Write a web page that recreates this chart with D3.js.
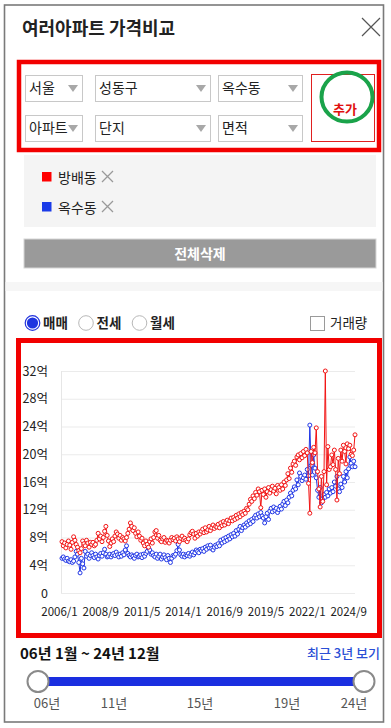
<!DOCTYPE html>
<html><head><meta charset="utf-8">
<script src="https://cdn.jsdelivr.net/npm/d3@7"></script>
<style>
html,body{margin:0;padding:0;background:#fff;}
svg{display:block;font-family:"Noto Sans CJK KR","Noto Sans",sans-serif;}
</style></head>
<body>
<svg id="c" width="391" height="728"></svg>
<script>
// ---------- data ----------
const seriesNames = ["방배동", "옥수동"];
const seriesColors = ["#f21414", "#2036e6"];
const startYear = 2006, endYear = 2024;
const xTickLabels = ["2006/1","2008/9","2011/5","2014/1","2016/9","2019/5","2022/1","2024/9"];
const yTicks = [0,4,8,12,16,20,24,28,32];
// 방배동 (억), monthly 2006/1 - 2024/12
const bangbae = [
 7.4,6.8,7.2,6.5,7.0,7.5,6.9,6.3,7.3,8.1,7.6,7.0,
 6.6,6.1,5.8,6.4,7.5,7.1,6.8,7.6,7.2,6.6,7.3,7.0,
 7.3,6.8,7.0,7.6,8.6,7.8,8.2,7.4,8.0,8.9,9.6,8.3,
 7.5,6.7,7.2,7.8,7.4,8.2,8.8,8.5,7.9,8.3,7.6,8.0,
 7.8,7.5,8.0,8.6,9.2,10.1,9.6,9.0,9.4,8.6,8.1,8.8,
 8.2,7.6,7.9,7.2,6.8,7.5,7.0,6.6,7.4,7.8,7.2,8.0,
 8.8,9.0,7.9,8.3,7.6,7.4,7.8,8.0,7.3,7.6,7.5,7.2,
 7.6,8.0,7.7,7.9,7.5,8.1,7.8,7.4,7.9,8.2,7.7,7.9,
 7.6,7.4,7.8,8.4,8.7,8.9,8.5,7.9,8.6,8.2,8.8,8.5,
 8.9,9.2,8.7,9.4,8.8,9.1,9.6,9.0,9.4,9.8,9.3,9.6,
 9.5,9.9,9.4,10.1,9.7,10.3,9.8,10.2,10.5,10.0,10.4,10.8,
 10.4,10.9,10.6,11.2,10.8,11.4,11.0,11.6,11.3,11.8,11.5,12.2,
 12.0,12.8,13.5,13.2,14.0,13.6,14.5,14.1,15.0,14.6,12.3,14.8,
 14.2,15.0,13.8,14.6,15.2,14.4,14.9,15.4,14.7,15.1,14.3,15.5,
 15.2,14.8,15.6,15.0,16.0,15.5,16.3,17.2,16.5,18.0,17.4,18.6,
 19.0,18.4,19.6,19.9,19.2,20.1,19.5,20.4,19.8,20.7,20.2,15.8,
 11.5,20.4,18.8,21.0,20.2,23.8,17.5,15.0,12.4,16.8,13.2,17.5,
 32.0,15.6,21.1,17.8,18.2,19.9,18.5,20.6,17.8,13.4,19.4,17.2,
 20.6,19.0,21.3,20.4,18.6,21.5,20.8,21.3,20.0,19.8,20.6,22.8
];
// 옥수동 (억), monthly 2006/1 - 2024/12
const oksu = [
 5.0,5.2,4.9,4.7,5.0,4.6,4.5,4.8,4.4,4.6,5.2,6.0,
 5.6,4.4,2.9,5.0,4.2,3.6,6.0,5.3,5.6,5.0,5.4,5.8,
 5.4,5.1,5.6,5.2,4.9,5.4,5.7,5.3,5.8,6.3,5.6,5.2,
 5.3,5.6,5.2,5.5,5.7,5.4,5.9,5.5,5.2,5.6,5.3,5.8,
 5.5,6.2,6.8,5.7,5.4,5.2,5.5,5.3,5.0,5.4,5.6,5.2,
 5.3,5.5,5.1,5.6,5.3,5.7,6.0,6.5,6.2,5.6,5.8,5.4,
 5.2,5.6,5.0,5.3,5.6,4.9,5.2,5.5,5.1,4.8,5.4,5.0,
 4.4,5.0,5.4,5.3,5.6,6.1,7.0,6.2,5.5,5.3,5.6,5.2,
 5.5,5.4,5.7,5.3,5.6,5.9,5.5,5.8,6.2,6.0,5.8,6.3,
 6.1,6.4,6.0,6.6,6.3,6.8,6.5,6.9,6.4,6.2,6.6,6.9,
 6.7,7.1,6.8,7.6,7.2,7.8,7.4,8.0,7.6,8.2,7.8,8.4,
 8.1,8.6,8.2,9.0,8.5,9.2,9.6,9.0,9.4,9.8,9.5,10.1,
 9.8,10.4,10.0,10.6,10.3,10.9,11.2,10.8,11.4,11.0,11.6,11.1,
 10.8,10.1,11.0,11.5,10.6,11.8,12.2,11.7,12.4,11.9,12.2,11.6,
 12.0,12.5,12.1,12.8,13.2,12.6,13.4,13.0,13.8,14.4,14.0,14.8,
 15.3,15.0,16.3,15.6,17.3,16.8,16.2,16.6,17.0,16.4,17.8,16.9,
 24.2,18.4,17.0,19.9,18.0,16.6,14.8,13.8,15.2,13.0,13.6,14.2,
 13.8,14.5,14.0,15.0,14.4,15.2,14.6,16.0,15.4,16.8,15.0,14.6,
 15.7,15.2,16.8,16.0,17.5,16.6,17.9,19.6,18.7,18.2,19.0,18.2
];
const seriesValues = [bangbae, oksu];
const filterRow1 = ["서울","성동구","옥수동"];
const filterRow2 = ["아파트","단지","면적"];
const radioLabels = ["매매","전세","월세"];
const sliderYears = [6, 11, 15, 19, 24];

// ---------- drawing ----------
const svg = d3.select("#c");
const months = [];
for (let y = startYear; y <= endYear; y++) for (let m = 1; m <= 12; m++) months.push(y + "/" + m);

// outer border
svg.append("rect").attr("x",4.5).attr("y",5).attr("width",379).attr("height",717)
  .attr("fill","#fff").attr("stroke","#7a7a7a").attr("stroke-width",1.6);

// title
svg.append("text").attr("x",22).attr("y",35).attr("font-size",18).attr("font-weight",600)
  .attr("fill","#222").text("여러아파트 가격비교");
svg.append("path").attr("d","M362,18L380,36M380,18L362,36").attr("stroke","#555").attr("stroke-width",1.2);

// filter box
svg.append("rect").attr("x",19).attr("y",62).attr("width",360).attr("height",88)
  .attr("fill","none").attr("stroke","#f20000").attr("stroke-width",4.5);
const boxX = [[25,82],[95,210],[218,302]];
[[filterRow1,75],[filterRow2,115]].forEach(([labels,top])=>{
  labels.forEach((t,i)=>{
    const [x0,x1] = boxX[i];
    svg.append("rect").attr("x",x0+0.5).attr("y",top+0.5).attr("width",x1-x0).attr("height",26)
      .attr("fill","#fff").attr("stroke","#c8c8c8");
    svg.append("text").attr("x",x0+4).attr("y",top+18).attr("font-size",14).attr("fill","#222").text(t);
    const tx = x1-9;
    svg.append("path").attr("d",`M${tx-5},${top+10}L${tx+5},${top+10}L${tx},${top+17}Z`).attr("fill","#a8a8a8");
  });
});
svg.append("rect").attr("x",311.5).attr("y",74.5).attr("width",63).attr("height",67)
  .attr("fill","#fff").attr("stroke","#e02020").attr("stroke-width",1);
svg.append("ellipse").attr("cx",347).attr("cy",97).attr("rx",25.5).attr("ry",24.5)
  .attr("fill","none").attr("stroke","#1aa34a").attr("stroke-width",4);
svg.append("text").attr("x",345).attr("y",114).attr("text-anchor","middle").attr("font-size",13)
  .attr("font-weight",600).attr("fill","#e01010").text("추가");

// legend panel
svg.append("rect").attr("x",24).attr("y",155).attr("width",352).attr("height",72).attr("fill","#f4f4f4");
seriesNames.forEach((n,i)=>{
  const cy = 177 + i*30;
  svg.append("rect").attr("x",42).attr("y",cy-5).attr("width",9.5).attr("height",9.5).attr("fill",i===0?"#ff0000":"#1a3be8");
  svg.append("text").attr("x",58).attr("y",cy+5.5).attr("font-size",14).attr("fill","#222").text(n);
  svg.append("path").attr("d",`M102,${cy-6}L113,${cy+5}M113,${cy-6}L102,${cy+5}`).attr("stroke","#999").attr("stroke-width",1.3);
});
svg.append("rect").attr("x",24).attr("y",239).attr("width",352).attr("height",29).attr("fill","#9a9a9a")
  .attr("stroke","#d6d6d6");
svg.append("text").attr("x",200).attr("y",259).attr("text-anchor","middle").attr("font-size",14)
  .attr("font-weight",700).attr("fill","#fff").text("전체삭제");
svg.append("rect").attr("x",5.5).attr("y",282).attr("width",377).attr("height",9).attr("fill","#f6f6f6");

// radios
const radioX = [32.5,86,139.5];
radioLabels.forEach((t,i)=>{
  const cx = radioX[i];
  if (i===0){
    svg.append("circle").attr("cx",cx).attr("cy",323).attr("r",7.3).attr("fill","#fff").attr("stroke","#2233dd").attr("stroke-width",1.2);
    svg.append("circle").attr("cx",cx).attr("cy",323).attr("r",5.6).attr("fill","#1e35e0");
  } else {
    svg.append("circle").attr("cx",cx).attr("cy",323).attr("r",7.3).attr("fill","#fff").attr("stroke","#b8b8b8").attr("stroke-width",1);
  }
  svg.append("text").attr("x",cx+10.5).attr("y",328).attr("font-size",13.5).attr("font-weight",700).attr("fill","#222").text(t);
});
svg.append("rect").attr("x",310.5).attr("y",316.5).attr("width",14).attr("height",14).attr("fill","#fff").attr("stroke","#9a9a9a");
svg.append("text").attr("x",330).attr("y",328).attr("font-size",13.5).attr("fill","#222").text("거래량");

// chart box
svg.append("rect").attr("x",18.5).attr("y",340.5).attr("width",361).attr("height",295)
  .attr("fill","none").attr("stroke","#f20000").attr("stroke-width",5);

const x = d3.scaleLinear().domain([0, months.length-1]).range([62, 355]);
const y = d3.scaleLinear().domain([0, 32]).range([593, 371]);

const g = svg.append("g");
g.selectAll("line.grid").data(yTicks).join("line").attr("class","grid")
  .attr("x1",61).attr("x2",355).attr("y1",d=>y(d)+0.5).attr("y2",d=>y(d)+0.5)
  .attr("stroke","#ebebeb");
g.append("line").attr("x1",61.5).attr("x2",61.5).attr("y1",y(32)).attr("y2",y(0)).attr("stroke","#e6e6e6");

g.selectAll("text.yl").data(yTicks).join("text").attr("class","yl")
  .attr("x",48).attr("y",d=>y(d)+4.5).attr("text-anchor","end").attr("font-size",12.5).attr("fill","#222")
  .text(d=>d===0?"0":d+"억");
g.selectAll("text.xl").data(xTickLabels).join("text").attr("class","xl")
  .attr("x",d=>x(months.indexOf(d))-2.5).attr("y",616).attr("text-anchor","middle").attr("font-size",11.5).attr("fill","#222")
  .text(d=>d);

const line = d3.line().x((d,i)=>x(i)).y(d=>y(d));
seriesValues.slice().reverse().forEach((vals,ri)=>{
  const si = seriesValues.length-1-ri;
  const col = seriesColors[si];
  g.append("path").datum(vals).attr("d",line).attr("fill","none").attr("stroke",col).attr("stroke-width",1);
  g.selectAll(null).data(vals).join("circle")
    .attr("cx",(d,i)=>x(i)).attr("cy",d=>y(d)).attr("r",2)
    .attr("fill","#fff").attr("stroke",col).attr("stroke-width",1);
});

svg.append("text").attr("x",20).attr("y",659).attr("font-size",15).attr("font-weight",700).attr("fill","#111")
  .text("06년 1월 ~ 24년 12월");
svg.append("text").attr("x",380).attr("y",658).attr("text-anchor","end").attr("font-size",13).attr("font-weight",500)
  .attr("fill","#2b4fd6").text("최근 3년 보기");

const sx = d3.scaleLinear().domain(sliderYears).range([47,114,200,287,354]);
svg.append("rect").attr("x",38).attr("y",677).attr("width",326).attr("height",9).attr("fill","#1a2fe0");
[38,364].forEach(cx=>{
  svg.append("circle").attr("cx",cx).attr("cy",681.5).attr("r",10.5).attr("fill","#fff").attr("stroke","#8a8a8a").attr("stroke-width",2);
});
svg.selectAll("text.sl").data(sliderYears).join("text").attr("class","sl")
  .attr("x",d=>sx(d)).attr("y",708).attr("text-anchor","middle").attr("font-size",13).attr("fill","#555")
  .text(d=>String(d).padStart(2,"0")+"년");
</script>
</body></html>
